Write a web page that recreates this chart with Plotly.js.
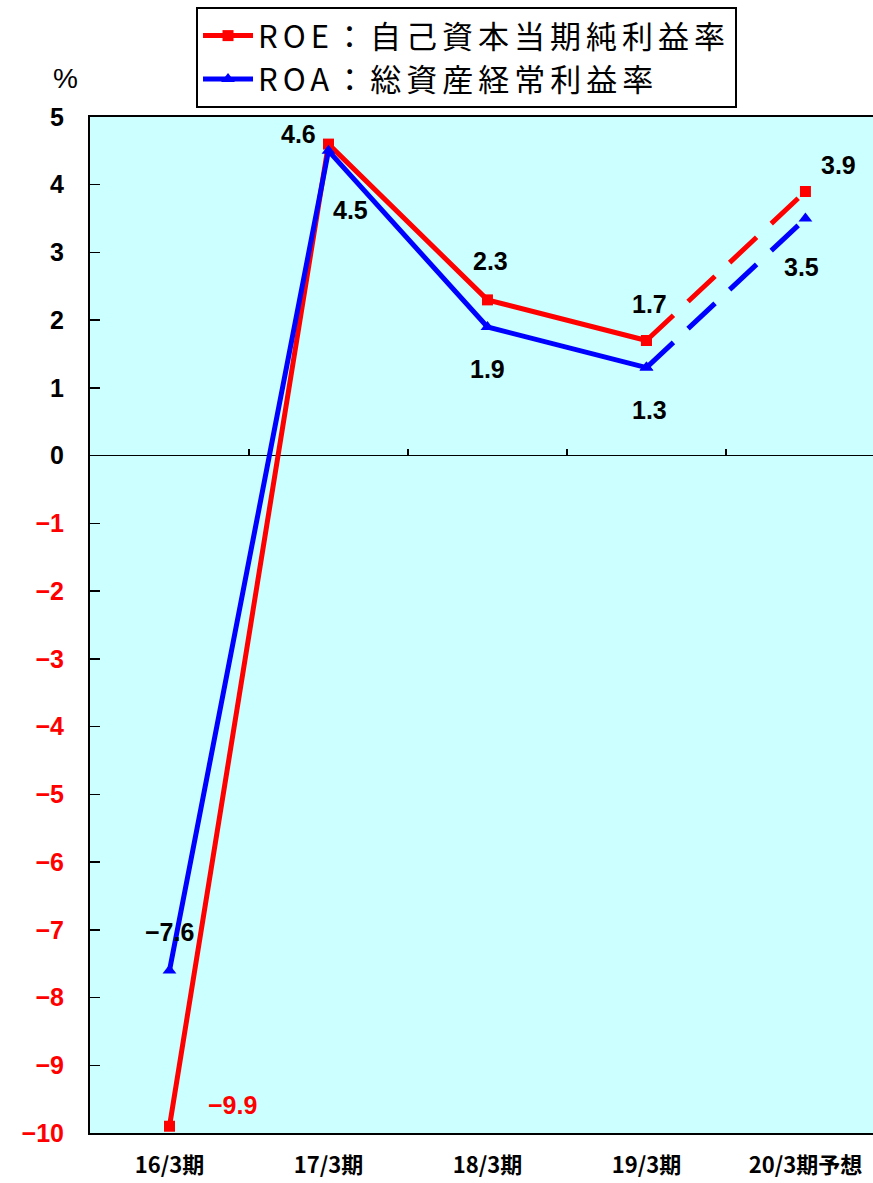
<!DOCTYPE html>
<html><head><meta charset="utf-8">
<script src="https://cdn.plot.ly/plotly-3.0.1.min.js"></script>
<style>
html,body{margin:0;padding:0;background:#fff;overflow:hidden}
.legendtext{letter-spacing:5px}
</style>
</head><body>
<div id="chart" style="width:873px;height:1183px"></div>
<script>
// ---- data ----
const categories = ['16/3期', '17/3期', '18/3期', '19/3期', '20/3期予想'];
const roe = [-9.9, 4.6, 2.3, 1.7, 3.9];
const roa = [-7.6, 4.5, 1.9, 1.3, 3.5];
const roeName = 'ROE：自己資本当期純利益率';
const roaName = 'ROA：総資産経常利益率';
const yTickVals = [5, 4, 3, 2, 1, 0, -1, -2, -3, -4, -5, -6, -7, -8, -9, -10];
const yTickText = ['5', '4', '3', '2', '1', '0', '−1', '−2', '−3', '−4', '−5', '−6', '−7', '−8', '−9', '−10'];
const boundaryTicks = [0.5, 1.5, 2.5, 3.5];

// ---- styles ----
const RED = '#ff0000', BLUE = '#0000ff';
const roeLabelShift = [[63, 21], [-30, 10], [3, 39], [3, 37], [33, 27]];
const roaLabelShift = [[0, 38], [22, -59], [0, -42], [3, -42], [-4, -48]];
const roeLabelColor = [RED, '#000', '#000', '#000', '#000'];

const solidIdx = [0, 1, 2, 3];
const dashIdx = [3, 4];
const pick = (arr, idx) => idx.map(i => arr[i]);

const traces = [
  {x: pick(categories, dashIdx), y: pick(roe, dashIdx), type: 'scatter', mode: 'lines+markers',
   line: {color: RED, width: 5, dash: '37px,20px'}, marker: {symbol: 'square', size: 11, color: RED},
   showlegend: false, hoverinfo: 'skip'},
  {x: pick(categories, dashIdx), y: pick(roa, dashIdx), type: 'scatter', mode: 'lines+markers',
   line: {color: BLUE, width: 5, dash: '37px,20px'}, marker: {symbol: 'triangle-up', size: 12, color: BLUE},
   showlegend: false, hoverinfo: 'skip'},
  {x: pick(categories, solidIdx), y: pick(roe, solidIdx), type: 'scatter', mode: 'lines+markers', name: roeName,
   line: {color: RED, width: 5}, marker: {symbol: 'square', size: 11, color: RED}},
  {x: pick(categories, solidIdx), y: pick(roa, solidIdx), type: 'scatter', mode: 'lines+markers', name: roaName,
   line: {color: BLUE, width: 5}, marker: {symbol: 'triangle-up', size: 12, color: BLUE}},
  {x: boundaryTicks, y: boundaryTicks.map(() => 0), xaxis: 'x2', yaxis: 'y', type: 'scatter', mode: 'none',
   showlegend: false, hoverinfo: 'skip'}
];

const labelFont = {family: 'Liberation Sans, Arial, sans-serif', size: 25, color: '#000', weight: 'bold'};
const annotations = [];
roe.forEach((v, i) => annotations.push({
  x: categories[i], y: v, xref: 'x', yref: 'y', text: v.toFixed(1).replace('-', '−'), showarrow: false,
  xanchor: 'center', yanchor: 'middle', xshift: roeLabelShift[i][0], yshift: roeLabelShift[i][1],
  font: Object.assign({}, labelFont, {color: roeLabelColor[i]})
}));
roa.forEach((v, i) => annotations.push({
  x: categories[i], y: v, xref: 'x', yref: 'y', text: v.toFixed(1).replace('-', '−'), showarrow: false,
  xanchor: 'center', yanchor: 'middle', xshift: roaLabelShift[i][0], yshift: roaLabelShift[i][1],
  font: labelFont
}));
annotations.push({
  x: -0.031, y: 1.038, xref: 'paper', yref: 'paper', text: '%', showarrow: false,
  xanchor: 'center', yanchor: 'middle',
  font: {family: 'Liberation Sans, Arial, sans-serif', size: 28, color: '#000'}
});

const yTickTextColored = yTickText.map((t, i) =>
  yTickVals[i] < 0 ? '<span style="color:#ff0000">' + t + '</span>' : t);

const layout = {
  width: 873, height: 1183,
  margin: {l: 90, r: 0, t: 117, b: 50},
  paper_bgcolor: '#ffffff',
  plot_bgcolor: '#ccffff',
  showlegend: true,
  legend: {
    x: 0.1354, y: 1.1083, xanchor: 'left', yanchor: 'top',
    bgcolor: '#ffffff', bordercolor: '#000', borderwidth: 2,
    font: {family: 'Noto Sans CJK JP, sans-serif', size: 31, color: '#000'},
    tracegroupgap: 0, itemwidth: 50
  },
  xaxis: {
    type: 'category', categoryorder: 'array', categoryarray: categories,
    range: [-0.5, 4.425], showgrid: false, zeroline: false,
    showline: true, linecolor: '#000', linewidth: 2, mirror: true,
    ticks: '', ticklabelstandoff: 12,
    tickfont: {family: 'Noto Sans CJK JP, sans-serif', size: 22, color: '#000', weight: 'bold'}
  },
  xaxis2: {
    overlaying: 'x', anchor: 'free', position: 10 / 15, side: 'bottom',
    range: [-0.5, 4.425], showgrid: false, zeroline: false, showline: false,
    tickmode: 'array', tickvals: boundaryTicks, ticks: 'inside', ticklen: 7, tickwidth: 1.5,
    tickcolor: '#000', showticklabels: false
  },
  yaxis: {
    range: [-10, 5], showgrid: false,
    zeroline: true, zerolinecolor: '#000', zerolinewidth: 1.5,
    showline: true, linecolor: '#000', linewidth: 2, mirror: true,
    tickmode: 'array', tickvals: yTickVals, ticktext: yTickTextColored,
    ticks: 'inside', ticklen: 10, tickwidth: 1.5, tickcolor: '#000',
    ticklabelstandoff: 19,
    tickfont: {family: 'Liberation Sans, Arial, sans-serif', size: 25, color: '#000', weight: 'bold'}
  },
  annotations: annotations
};

Plotly.newPlot('chart', traces, layout, {staticPlot: true, displayModeBar: false});
</script>
</body></html>
